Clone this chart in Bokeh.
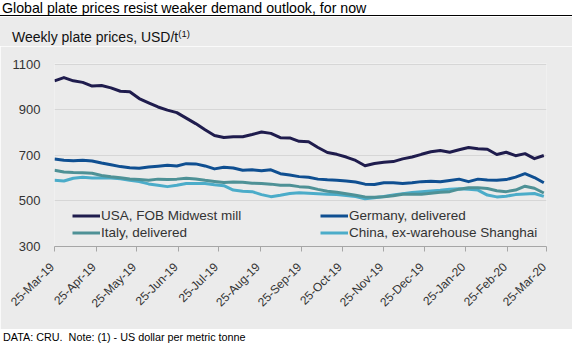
import math
import pandas as pd
from bokeh.plotting import figure
from bokeh.models import (Range1d, FixedTicker, Legend, LegendItem, Div, ColumnDataSource,
                          CustomJSTickFormatter)
from bokeh.layouts import column
from bokeh.embed import file_html
from bokeh.resources import INLINE

FONT = "Liberation Sans"

# ---- data ----
start_date = "2019-03-25"
n_weeks = 53
dates = pd.date_range(start_date, periods=n_weeks, freq="7D")

usa = [1028, 1042, 1028, 1021, 1005, 1007, 997, 982, 980, 950,
       931, 913, 899, 888, 864, 840, 813, 788, 779, 782,
       782, 792, 803, 797, 778, 777, 762, 760, 735, 713,
       705, 693, 678, 655, 665, 670, 673, 685, 693, 705,
       716, 722, 714, 725, 735, 729, 727, 704, 714, 699,
       708, 686, 700]
germany = [684, 679, 677, 679, 676, 667, 659, 651, 646, 644,
           649, 653, 657, 654, 664, 663, 654, 641, 648, 645,
           635, 637, 633, 637, 620, 614, 607, 604, 596, 593,
           591, 588, 583, 574, 572, 580, 580, 577, 580, 585,
           587, 584, 590, 596, 585, 596, 592, 591, 594, 605,
           620, 603, 580]
italy = [635, 627, 625, 624, 622, 612, 606, 602, 597, 594,
         591, 596, 594, 596, 600, 597, 591, 586, 581, 583,
         582, 578, 577, 574, 569, 569, 563, 560, 551, 543,
         538, 532, 525, 518, 516, 519, 523, 530, 530, 530,
         534, 538, 541, 552, 558, 558, 555, 545, 541, 548,
         565, 556, 535]
china = [591, 588, 600, 604, 601, 601, 601, 598, 591, 585,
         575, 569, 563, 569, 577, 577, 577, 571, 567, 548,
         543, 541, 528, 519, 525, 533, 536, 534, 532, 530,
         528, 524, 520, 510, 514, 520, 526, 532, 537, 541,
         544, 547, 552, 554, 552, 548, 526, 518, 521, 528,
         531, 533, 520]

series_names = ["USA, FOB Midwest mill", "Germany, delivered", "Italy, delivered", "China, ex-warehouse Shanghai"]
series_colors = ["#1f1c4d", "#0f4f91", "#4e9196", "#4bacc9"]

tick_labels = ["25-Mar-19", "25-Apr-19", "25-May-19", "25-Jun-19", "25-Jul-19", "25-Aug-19",
               "25-Sep-19", "25-Oct-19", "25-Nov-19", "25-Dec-19", "25-Jan-20", "25-Feb-20", "25-Mar-20"]
y_ticks = [300, 500, 700, 900, 1100]

tick_dates = pd.to_datetime(tick_labels, format="%d-%b-%y")
tick_ms = [int(t.value // 10**6) for t in tick_dates]

src = ColumnDataSource(dict(date=dates, usa=usa, germany=germany, italy=italy, china=china))

p = figure(width=572, height=283, x_axis_type="datetime",
           x_range=Range1d(tick_ms[0], tick_ms[-1]), y_range=Range1d(300, 1104),
           output_backend="svg", toolbar_location=None,
           min_border_left=54, min_border_right=26, min_border_top=17, min_border_bottom=83,
           background_fill_color="#ebebeb", border_fill_color="#ebebeb", outline_line_color=None)

r_china = p.line("date", "china", source=src, line_color=series_colors[3], line_width=3, line_join="round")
r_italy = p.line("date", "italy", source=src, line_color=series_colors[2], line_width=3, line_join="round")
r_ger = p.line("date", "germany", source=src, line_color=series_colors[1], line_width=3, line_join="round")
r_usa = p.line("date", "usa", source=src, line_color=series_colors[0], line_width=3, line_join="round")

p.xgrid.grid_line_color = None
p.ygrid.grid_line_color = "#d6d6d6"
p.ygrid.ticker = FixedTicker(ticks=y_ticks)

p.yaxis.ticker = FixedTicker(ticks=y_ticks)
p.yaxis.axis_line_color = None
p.yaxis.major_tick_line_color = None
p.yaxis.minor_tick_line_color = None
p.yaxis.major_label_standoff = 8
p.yaxis.major_label_text_font = FONT
p.yaxis.major_label_text_font_size = "13px"
p.yaxis.major_label_text_color = "#333333"

p.xaxis.ticker = FixedTicker(ticks=tick_ms)
# label text looked up from tick_labels; a no-break space nudges the rotated text
# so that its end sits just below-left of the tick, as in the reference
p.xaxis.formatter = CustomJSTickFormatter(args=dict(tvals=tick_ms, tlabs=tick_labels), code="""
    let best = 0, bd = Infinity;
    for (let i = 0; i < tvals.length; i++) {
        const d = Math.abs(tvals[i] - tick);
        if (d < bd) { bd = d; best = i; }
    }
    return tlabs[best] + '\\u00a0';
""")
p.xaxis.axis_line_color = "#a6a6a6"
p.xaxis.major_tick_line_color = "#a6a6a6"
p.xaxis.major_tick_out = 5
p.xaxis.major_tick_in = 0
p.xaxis.minor_tick_line_color = None
p.xaxis.major_label_orientation = math.pi / 4
p.xaxis.major_label_text_font = FONT
p.xaxis.major_label_text_font_size = "12px"
p.xaxis.major_label_text_color = "#333333"
p.xaxis.major_label_standoff = 11

def make_legend(items, loc):
    return Legend(items=items, location=loc, orientation="vertical", padding=0, margin=0, spacing=0,
                  glyph_width=28, glyph_height=17, label_height=17, label_standoff=1,
                  border_line_color=None, background_fill_alpha=0,
                  label_text_font=FONT, label_text_font_size="13.5px", label_text_color="#333333")

leg_a = make_legend([LegendItem(label=series_names[0], renderers=[r_usa]),
                     LegendItem(label=series_names[2], renderers=[r_italy])], (18, 5))
leg_b = make_legend([LegendItem(label=series_names[1], renderers=[r_ger]),
                     LegendItem(label=series_names[3], renderers=[r_china])], (266, 5))
p.add_layout(leg_a)
p.add_layout(leg_b)

title_div = Div(text=(f'<div style="font-family:\'{FONT}\',Arial,sans-serif;font-size:14.2px;color:#000;'
                      'line-height:16px;height:16px;width:572px;padding-left:2px;box-sizing:border-box;'
                      'border-bottom:1px solid #000;white-space:nowrap;background:#fff">'
                      'Global plate prices resist weaker demand outlook, for now</div>'),
                width=572, height=17, margin=(0, 0, 0, 0))
sub_div = Div(text=(f'<div style="font-family:\'{FONT}\',Arial,sans-serif;font-size:14px;color:#111;'
                    'line-height:18px;height:29px;width:572px;padding:11px 0 0 12px;box-sizing:border-box;'
                    'white-space:nowrap;background:#ebebeb">'
                    'Weekly plate prices, USD/t<sup style="font-size:9.5px;vertical-align:5px;line-height:0">(1)</sup></div>'),
              width=572, height=29, margin=(0, 0, 0, 0))
foot_div = Div(text=(f'<div style="font-family:\'{FONT}\',Arial,sans-serif;font-size:10.8px;color:#000;'
                     'line-height:16px;height:22px;width:572px;padding-left:3px;box-sizing:border-box;'
                     'white-space:nowrap;background:#fff">'
                     'DATA: CRU.&nbsp; Note: (1) - US dollar per metric tonne</div>'),
               width=572, height=22, margin=(0, 0, 0, 0))

layout = column(title_div, sub_div, p, foot_div, spacing=0, margin=(0, 0, 0, 0))

open("out.html", "w").write(file_html(layout, INLINE))
